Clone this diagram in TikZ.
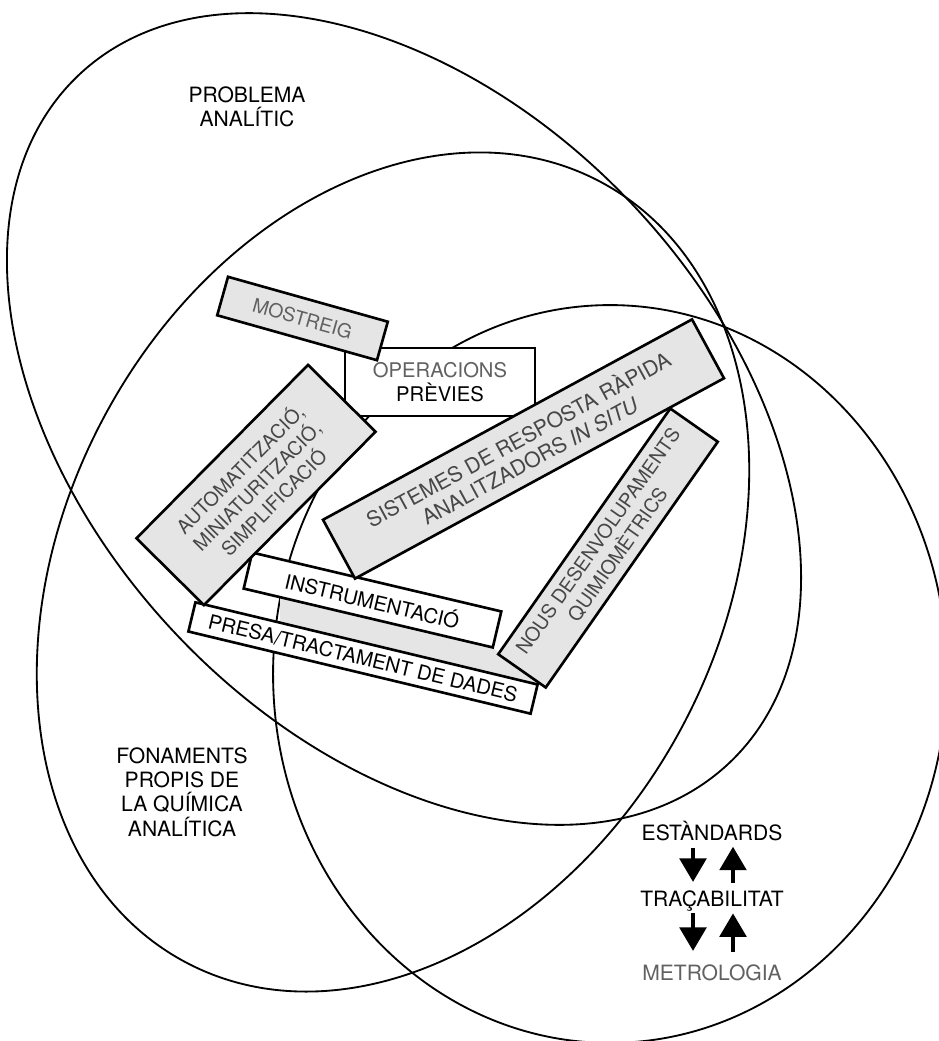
\documentclass[tikz,border=0pt]{standalone}
\usepackage{fontspec}
\setmainfont{TeX Gyre Heros}
\usetikzlibrary{arrows.meta}

\begin{document}
\begin{tikzpicture}[x=0.02cm, y=-0.02cm,
    zone/.style={line width=1.05pt},
    graybox/.style={draw, line width=1.5pt, fill=black!10, inner sep=0pt, align=center, text=black!72, font=\fontsize{11}{13.5}\selectfont},
    whitebox/.style={draw, line width=1.5pt, fill=white, inner sep=0pt, align=center, font=\fontsize{11.5}{13.5}\selectfont},
    zonelabel/.style={align=center, inner sep=0pt, font=\fontsize{12}{13.8}\selectfont},
    bigarrow/.style={line width=2.3pt, -{Triangle[width=0.53cm, length=0.47cm]}}]
    \useasboundingbox (0,0) rectangle (938,1041);

    % les tres zones
    \draw[zone] (404,419) circle [x radius=9.47cm, y radius=6.27cm, rotate=-46.6];
    \draw[zone] (393,572) circle [x radius=8.84cm, y radius=6.56cm, rotate=62];
    \draw[zone] (610,674) circle [x radius=6.74cm, y radius=7.38cm];

    \fill[black!10] (280,597) -- (493,648) -- (540,684) -- (280,623) -- cycle;

    \node[whitebox, minimum width=3.8cm, minimum height=1.36cm] (operacions) at (440,382) {{\color{black!62}OPERACIONS}\\PRÈVIES};
    \node[whitebox, minimum width=5.12cm, minimum height=0.74cm, rotate=-13.3] (instrumentacio) at (372.5,600) {INSTRUMENTACIÓ};
    \node[whitebox, minimum width=7.04cm, minimum height=0.6cm, rotate=-13.5] (presa) at (363,658) {PRESA/TRACTAMENT DE DADES};
    \node[graybox, text=black!62, minimum width=3.32cm, minimum height=0.8cm, rotate=-15.7] (mostreig) at (302.5,318.5) {MOSTREIG};
    \node[graybox, minimum width=4.88cm, minimum height=1.9cm, rotate=45.3] (automatitzacio) at (256,485) {AUTOMATITZACIÓ,\\MINIATURITZACIÓ,\\SIMPLIFICACIÓ};
    \node[graybox, font=\fontsize{12}{13.8}\selectfont, minimum width=8.4cm, minimum height=1.34cm, rotate=28.5] (sistemes) at (523.5,449) {SISTEMES DE RESPOSTA RÀPIDA\\ANALITZADORS \textit{IN SITU}};
    \node[graybox, minimum width=6cm, minimum height=1.16cm, rotate=55] (nous) at (608,548) {NOUS DESENVOLUPAMENTS\\QUIMIOMÈTRICS};

    \node[zonelabel] (problema) at (247,107) {PROBLEMA\\ANALÍTIC};
    \node[zonelabel] (fonaments) at (182,792) {FONAMENTS\\PROPIS DE\\LA QUÍMICA\\ANALÍTICA};
    \node[zonelabel, anchor=base] (estandards) at (712,840) {ESTÀNDARDS};
    \node[zonelabel, anchor=base, text depth=0pt] (tracabilitat) at (712,906) {TRAÇABILITAT};
    \node[zonelabel, anchor=base, text=black!62] (metrologia) at (712,980) {METROLOGIA};

    \draw[bigarrow, shorten <=0.14cm, shorten >=0.16cm] ([xshift=-0.38cm]estandards.south) -- ([xshift=-0.38cm]tracabilitat.north);
    \draw[bigarrow, shorten <=0.14cm, shorten >=0.12cm] ([xshift=0.42cm]tracabilitat.north) -- ([xshift=0.42cm]estandards.south);
    \draw[bigarrow, shorten <=0.14cm, shorten >=0.26cm] ([xshift=-0.38cm]tracabilitat.south) -- ([xshift=-0.38cm]metrologia.north);
    \draw[bigarrow, shorten <=0.24cm, shorten >=0.14cm] ([xshift=0.42cm]metrologia.north) -- ([xshift=0.42cm]tracabilitat.south);
\end{tikzpicture}
\end{document}
